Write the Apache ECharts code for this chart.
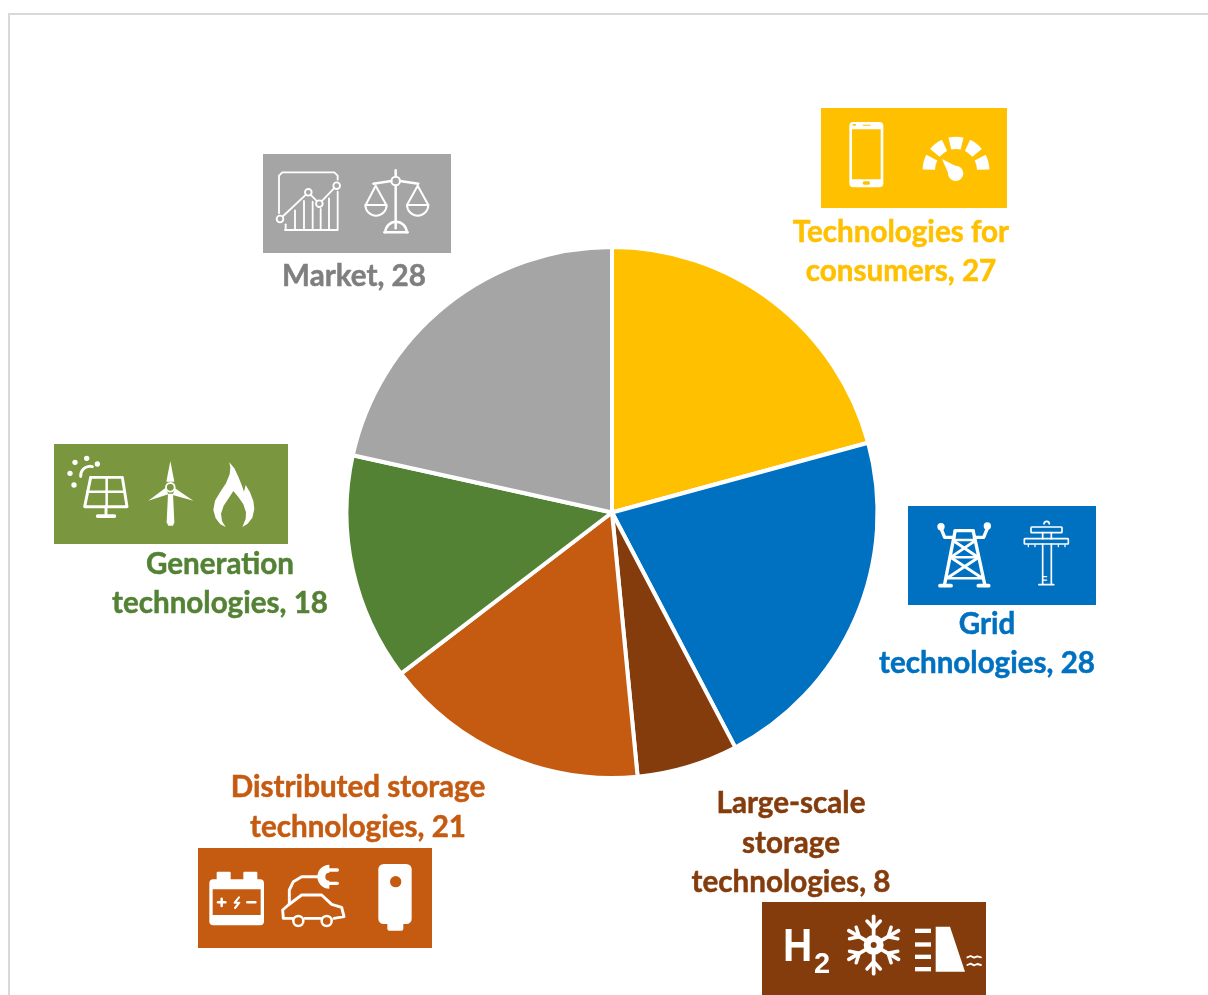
<!DOCTYPE html>
<html>
<head>
<meta charset="utf-8">
<style>html,body{margin:0;padding:0;background:#fff}#c{width:1208px;height:995px}</style>
<script src="https://cdn.jsdelivr.net/npm/echarts@6/dist/echarts.min.js"></script>
</head>
<body>
<div id="c"></div>
<script>
const categories = ['Technologies for\nconsumers','Grid\ntechnologies','Large-scale\nstorage\ntechnologies','Distributed storage\ntechnologies','Generation\ntechnologies','Market'];
const values = [27,28,8,21,18,28];
const sliceColors = ['#FFC000','#0070C0','#843C0C','#C55A11','#548235','#A5A5A5'];
const labelColors = ['#FFC000','#0070C0','#843C0C','#C55A11','#548235','#7F7F7F'];
const labelCenters = [[901,252],[987,644],[791,843],[358,807.5],[220,584],[354,276]];

const W = '#fff';
const K = 2.5;
const line = (pts, lw, color) => ({type:'polyline', silent:true, shape:{points:pts}, style:{stroke:color||W, lineWidth:lw*K, fill:null, lineCap:'round', lineJoin:'round'}});
const poly = (pts, fill) => ({type:'polygon', silent:true, shape:{points:pts}, style:{fill:fill||W}});
const circ = (cx,cy,r,fill,stroke,lw) => ({type:'circle', silent:true, shape:{cx,cy,r}, style:{fill:fill||W, stroke:stroke||null, lineWidth:(lw||0)*K}});
const rr = (x,y,w,h,r,fill,stroke,lw) => ({type:'rect', silent:true, shape:{x,y,width:w,height:h,r}, style:{fill:fill===null?null:(fill||W), stroke:stroke||null, lineWidth:(lw||0)*K}});
const sect = (cx,cy,r0,r,a,b) => ({type:'sector', silent:true, shape:{cx,cy,r0,r,startAngle:a*Math.PI/180,endAngle:b*Math.PI/180,clockwise:true}, style:{fill:W}});
const arc = (cx,cy,r,a,b,lw,color) => ({type:'arc', silent:true, shape:{cx,cy,r,startAngle:a*Math.PI/180,endAngle:b*Math.PI/180,clockwise:true}, style:{stroke:color||W, lineWidth:lw*K, fill:null, lineCap:'round'}});
const icon = (ox,oy,children) => ({type:'group', x:ox, y:oy, scaleX:1/3, scaleY:1/3, silent:true, children});
const bg = (x,y,w,h,fill) => ({type:'rect', silent:true, shape:{x,y,width:w,height:h}, style:{fill}});

// --- consumers
const gold = '#FFC000';
const consumersIcon = icon(780,100,[
  rr(208,66,102,196,12), rr(216,88,86,150,0,gold),
  rr(248,244,22,10,5,gold), rr(218,72,10,5,2,gold), rr(248,74,24,3,1,gold),
  sect(528,210,63,100,-179,-153), sect(528,210,63,100,-141,-115), sect(528,210,63,100,-103,-77),
  sect(528,210,63,100,-65,-39), sect(528,210,63,100,-27,-1),
  circ(527,220,23), poly([[486,177],[546,208],[512,236]])
]);
// --- market
const gray = '#A5A5A5';
const marketIcon = icon(255,145,[
  line([[72,205],[72,92],[82,82],[238,82],[248,92],[248,104]],2.2),
  line([[248,140],[248,255],[90,255]],2.2),
  line([[92,238],[92,255]],2.2), line([[120,196],[120,255]],2.2), line([[147,168],[147,255]],2.2),
  line([[173,170],[173,255]],2.2), line([[197,192],[197,255]],2.2), line([[222,160],[222,255]],2.2),
  line([[75,222],[160,142],[193,176],[245,122]],2.2),
  circ(75,222,10,gray,W,2.2), circ(160,142,10,gray,W,2.2), circ(193,176,10,gray,W,2.2), circ(245,122,10,gray,W,2.2),
  line([[422,76],[422,95]],3), line([[422,121],[422,250]],3),
  circ(422,108,13,gray,W,2.4),
  line([[355,116],[409,108]],3), line([[435,108],[490,116]],3),
  line([[362,122],[332,180],[394,180],[362,122]],2.4),
  line([[488,122],[456,180],[520,180],[488,122]],2.4),
  arc(363,180,32,0,180,2.4), arc(488,180,32,0,180,2.4),
  line([[388,262],[458,262]],3),
  arc(423,262,32,-180,0,3)
]);
// --- generation
const olive = '#7A963E';
const genIcon = icon(45,435,[
  circ(90,82,8), circ(125,70,8), circ(157,87,8), circ(75,115,8), circ(87,150,8),
  arc(135,122,28,175,285,3.5),
  line([[137,127],[232,127],[246,215],[119,215],[137,127]],3.5),
  line([[127,170],[238,170]],3), line([[185,127],[185,215]],3),
  line([[183,215],[183,240]],3.5), line([[158,243],[208,243]],4.5),
  poly([[376,78],[388,140],[364,140]]),
  poly([[310,197],[362,158],[370,178]]),
  poly([[445,197],[390,160],[383,180]]),
  poly([[369,176],[384,176],[388,262],[384,272],[370,272],[365,262]]),
  circ(376,157,13,olive,W,2.2),
  poly([[553,82],[568,100],[580,125],[590,150],[597,170],[602,150],[615,172],[625,198],[628,222],[622,248],[608,266],[592,276],
        [602,252],[603,232],[595,208],[580,186],[565,168],[552,188],[536,212],[528,236],[531,258],[542,276],
        [526,268],[512,250],[505,225],[510,197],[526,170],[543,145],[554,118],[556,98]])
]);
// --- grid
const blue = '#0070C0';
const gridIcon = icon(870,500,[
  line([[255,95],[223,257]],4), line([[310,95],[345,257]],4),
  line([[255,92],[310,92]],4),
  line([[210,257],[243,257]],4.5), line([[325,257],[356,257]],4.5),
  line([[252,112],[224,112],[213,85]],4), line([[313,112],[341,112],[352,85]],4),
  circ(213,80,11), circ(352,78,11),
  line([[250,120],[316,120]],3), line([[245,172],[323,172]],3), line([[233,235],[335,235]],3),
  line([[250,122],[322,170]],3.5), line([[316,122],[245,170]],3.5),
  line([[245,174],[335,233]],3.5), line([[323,174],[233,233]],3.5),
  rr(483,81,93,17,2,null,W,2), rr(463,116,132,16,2,null,W,2),
  arc(530,72,8,-180,0,2),
  line([[518,132],[518,252]],2), line([[544,132],[544,252]],2), line([[518,98],[518,116]],2), line([[544,98],[544,116]],2),
  line([[507,254],[551,254]],2.2),
  line([[520,230],[530,230]],1.5), line([[520,240],[530,240]],1.5),
  line([[475,134],[475,140]],1.5), line([[495,134],[495,140]],1.5), line([[565,134],[565,140]],1.5), line([[585,134],[585,140]],1.5)
]);
// --- distributed
const orange = '#C55A11';
const distIcon = icon(190,770,[
  rr(80,305,42,30,3), rr(160,305,42,30,3),
  rr(58,328,164,138,12), rr(68,358,144,77,0,orange),
  line([[84,397],[106,397]],3), line([[95,386],[95,408]],3),
  line([[172,397],[196,397]],3),
  line([[147,382],[134,398],[148,398],[135,414]],2.5),
  line([[312,445],[280,445],[278,420],[295,405],[335,375],[395,375],[425,403],[455,412],[462,440],[432,445]],3.5),
  line([[345,445],[392,445]],3.5),
  circ(325,453,15,orange,W,3), circ(410,453,15,orange,W,3),
  line([[298,402],[298,360],[310,335],[335,320],[382,320]],3.5),
  sect(418,320,12,36,90,270),
  line([[418,300],[442,300]],4), line([[418,340],[442,340]],4),
  rr(565,282,100,180,16), rr(592,455,48,27,6),
  circ(617,335,17,orange)
]);
// --- large scale
const brown = '#843C0C';
function snowArm(deg) {
  const cx=566, cy=480, a=deg*Math.PI/180;
  const p=(d,o)=>[cx+Math.cos(a)*d-Math.sin(a)*o, cy+Math.sin(a)*d+Math.cos(a)*o];
  return [ line([p(20,0),p(86,0)],4.5), line([p(72,-20),p(50,0),p(72,20)],4.2) ];
}
const largeIcon = icon(685,785,[
  ...[30,90,150,210,270,330].flatMap(snowArm),
  circ(566,480,30), circ(566,480,9,brown),
  poly([[752,425],[795,425],[840,560],[752,560]]),
  rr(690,431,48,13,0), rr(690,472,48,13,0), rr(690,509,48,13,0), rr(690,546,48,13,0),
  line([[847,517],[857,513],[867,518],[877,514],[888,517]],2.2),
  line([[847,540],[857,536],[867,541],[877,537],[888,540]],2.2)
]);
const h2Text = [
  {type:'text', silent:true, x:783, y:925, style:{text:'H', font:'700 46px "Liberation Sans"', fill:W, textAlign:'left', textVerticalAlign:'top'}, scaleX:0.88, scaleY:1},
  {type:'text', silent:true, x:814, y:950, style:{text:'2', font:'700 29px "Liberation Sans"', fill:W, textAlign:'left', textVerticalAlign:'top'}}
];

const graphicEls = [
  bg(8,13,2,982,'#D9D9D9'), bg(8,13,1200,2,'#D9D9D9'),
  bg(821,108,186,100,gold), consumersIcon,
  bg(263,154,188,99,gray), marketIcon,
  bg(54,444,234,100,olive), genIcon,
  bg(908,506,188,99,blue), gridIcon,
  bg(198,848,234,100,orange), distIcon,
  bg(762,902,224,93,brown), largeIcon, ...h2Text
];

const chart = echarts.init(document.getElementById('c'), null, {renderer:'canvas', width:1208, height:995});
chart.setOption({
  animation:false,
  backgroundColor:'#fff',
  graphic:{elements:graphicEls},
  series:[{
    type:'pie',
    center:[612,512.5],
    radius:[0,265.5],
    startAngle:90,
    clockwise:true,
    silent:true,
    itemStyle:{borderColor:'#fff', borderWidth:4},
    label:{
      show:true, position:'outside', formatter:'{b}, {c}',
      fontFamily:'Lato', fontWeight:700, fontSize:29.6, lineHeight:39.5, align:'center', verticalAlign:'middle'
    },
    labelLine:{show:false},
    labelLayout:(p)=>({x:labelCenters[p.dataIndex][0], y:labelCenters[p.dataIndex][1], align:'center', verticalAlign:'middle', hideOverlap:false}),
    data:categories.map((name,i)=>({name, value:values[i],
      itemStyle:{color:sliceColors[i]},
      label:{color:labelColors[i], textBorderColor:labelColors[i], textBorderWidth:0.5}}))
  }]
});
</script>
</body>
</html>
